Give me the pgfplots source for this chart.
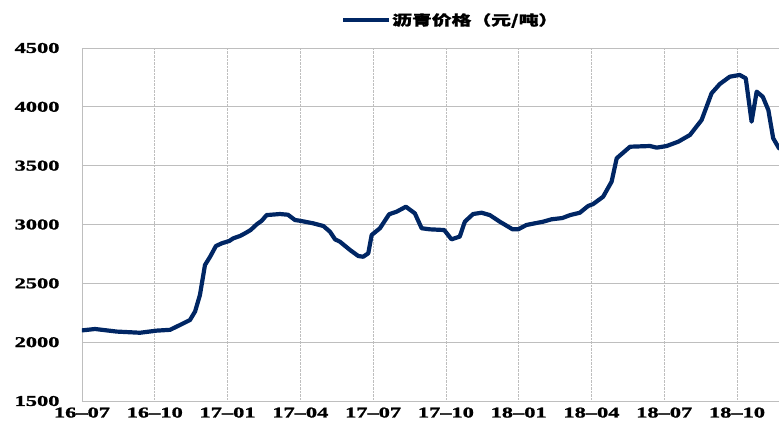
\documentclass[border=0pt]{standalone}
\usepackage{pgfplots}
\pgfplotsset{compat=1.18}
\usepackage{fontspec}
\setmainfont{Liberation Serif}[FakeStretch=1.5, BoldFeatures={FakeBold=1.5}]
\newfontfamily\cjk{Noto Sans CJK SC}[FakeStretch=1.42, BoldFeatures={FakeBold=1.3}]
\definecolor{navy}{RGB}{0,38,100}
\definecolor{gridgray}{RGB}{190,190,190}

% month index: 0 = 2016-07
\pgfplotstableread{
m     price
0.00  2100
0.54  2112
1.43  2090
2.39  2080
3.08  2098
3.63  2105
4.04  2146
4.45  2188
4.66  2260
4.86  2400
5.07  2656
5.28  2726
5.52  2817
5.76  2840
6.07  2860
6.24  2883
6.51  2902
6.72  2925
6.95  2953
7.20  3001
7.41  3032
7.61  3080
8.16  3089
8.49  3083
8.78  3038
8.98  3032
9.53  3010
9.95  2987
10.22 2939
10.43 2874
10.63 2854
11.05 2783
11.39 2732
11.59 2726
11.80 2755
11.94 2911
12.28 2968
12.66 3087
12.97 3109
13.35 3151
13.72 3095
14.00 2968
14.34 2959
14.93 2953
15.23 2874
15.57 2897
15.78 3024
16.12 3089
16.47 3100
16.81 3080
17.22 3024
17.75 2959
17.98 2959
18.32 2996
19.01 3024
19.35 3044
19.80 3055
20.12 3080
20.52 3100
20.86 3157
21.07 3174
21.48 3236
21.83 3364
22.04 3563
22.59 3661
23.41 3667
23.69 3653
24.10 3667
24.58 3704
25.06 3761
25.54 3888
25.95 4115
26.29 4194
26.70 4256
27.11 4271
27.36 4242
27.60 3874
27.81 4129
28.06 4086
28.29 3973
28.49 3733
28.73 3648
}\pricetable

\begin{document}
\begin{tikzpicture}
\begin{axis}[
  name=ax,
  scale only axis,
  width=697bp, height=353bp,
  xmin=0, xmax=28.73,
  ymin=1500, ymax=4500,
  xtick={0,3,...,27},
  xticklabels={16--07,16--10,17--01,17--04,17--07,17--10,18--01,18--04,18--07,18--10},
  ytick={1500,2000,...,4500},
  axis x line*=bottom, axis y line*=left,
  axis line style={draw=gridgray, line width=0.8bp, -},
  major tick length=0pt,
  ymajorgrids, xmajorgrids,
  y grid style={gridgray, line width=0.8bp},
  x grid style={gridgray, densely dotted, line width=0.8bp},
  ticklabel style={font=\fontsize{15}{18}\selectfont\bfseries},
  /pgf/number format/assume math mode=true,
  /pgf/number format/1000 sep={},
  yticklabel style={xshift=-19bp},
  xticklabel style={yshift=-3bp},
  legend style={at={(0.5,1)}, anchor=south, xshift=20bp, yshift=20bp,
    draw=none, fill=none, inner sep=0pt, column sep=0pt,
    nodes={inner sep=1bp},
    font=\cjk\bfseries\fontsize{14}{16}\selectfont},
  legend image code/.code={\draw[#1, line width=3.5bp, line cap=butt] (0bp,0bp) -- (46bp,0bp);},
]
\addplot[navy, line width=4.2bp, line join=round, line cap=round] table[x=m, y=price] {\pricetable};
\addlegendentry{沥青价格（元/吨）}
\end{axis}
\pgfresetboundingbox
\path ([xshift=-82bp,yshift=-28bp]ax.south west) rectangle ([yshift=48bp]ax.north east);
\end{tikzpicture}
\end{document}
